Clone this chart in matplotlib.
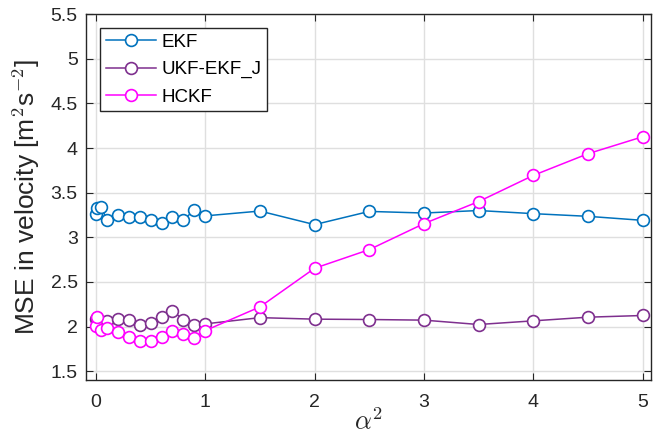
import matplotlib
matplotlib.use("Agg")
import matplotlib.pyplot as plt
from matplotlib.ticker import FuncFormatter

plt.rcParams['font.family'] = ['Liberation Sans', 'DejaVu Sans']
plt.rcParams['mathtext.fontset'] = 'cm'

alpha2 = [0, 0.01, 0.05, 0.1, 0.2, 0.3, 0.4, 0.5, 0.6, 0.7, 0.8, 0.9, 1.0,
          1.5, 2.0, 2.5, 3.0, 3.5, 4.0, 4.5, 5.0]
ekf = [3.265, 3.33, 3.34, 3.19, 3.25, 3.23, 3.23, 3.19, 3.165, 3.23, 3.19, 3.31, 3.24,
       3.294, 3.142, 3.29, 3.272, 3.30, 3.265, 3.235, 3.19]
ukf_ekf_j = [2.08, 2.10, 2.05, 2.06, 2.09, 2.075, 2.02, 2.037, 2.104, 2.179, 2.074, 2.015, 2.03,
             2.10, 2.083, 2.079, 2.072, 2.023, 2.064, 2.105, 2.124]
hckf = [2.003, 2.107, 1.96, 1.98, 1.936, 1.888, 1.84, 1.84, 1.888, 1.947, 1.914, 1.87, 1.955,
        2.22, 2.653, 2.862, 3.153, 3.40, 3.693, 3.936, 4.126]

xticks = [0, 1, 2, 3, 4, 5]
yticks = [1.5, 2, 2.5, 3, 3.5, 4, 4.5, 5, 5.5]

fig = plt.figure(figsize=(6.53, 4.42), dpi=100)
ax = fig.add_axes([0.1317, 0.140, 0.866, 0.828])

common = dict(marker='o', markerfacecolor='white', markersize=8.5, markeredgewidth=1.2, linewidth=1.1)
ax.plot(alpha2, ekf, color='#0072BD', label='EKF', **common)
ax.plot(alpha2, ukf_ekf_j, color='#7E2F8E', label='UKF-EKF_J', **common)
ax.plot(alpha2, hckf, color='#FF00FF', label='HCKF', **common)

ax.set_xlim(-0.091, 5.082)
ax.set_ylim(1.4, 5.5)
ax.set_xticks(xticks)
ax.set_yticks(yticks)
ax.yaxis.set_major_formatter(FuncFormatter(lambda v, p: f"{v:g}"))
ax.grid(True, color='#DFDFDF', linewidth=1.0)
ax.set_axisbelow(True)
ax.tick_params(direction='in', top=True, right=True, labelsize=14, colors='#262626',
               length=5, width=0.8)
ax.tick_params(axis='x', pad=10)
ax.tick_params(axis='y', pad=6)
for s in ax.spines.values():
    s.set_color('#262626')
    s.set_linewidth(1.0)

ax.set_xlabel(r'$\alpha^2$', fontsize=19, color='#262626', labelpad=-2)
ax.set_ylabel(r'MSE in velocity [m$^2$s$^{-2}$]', fontsize=19, color='#262626', labelpad=6)

leg = ax.legend(loc='upper left', bbox_to_anchor=(0.0247, 0.962), borderaxespad=0,
                fontsize=13.5, frameon=True, fancybox=False, edgecolor='#262626', framealpha=1,
                handlelength=2.7, borderpad=0.3, labelspacing=0.55, handletextpad=0.3)
leg.get_frame().set_linewidth(1.0)

fig.savefig('out.png', dpi=100)
